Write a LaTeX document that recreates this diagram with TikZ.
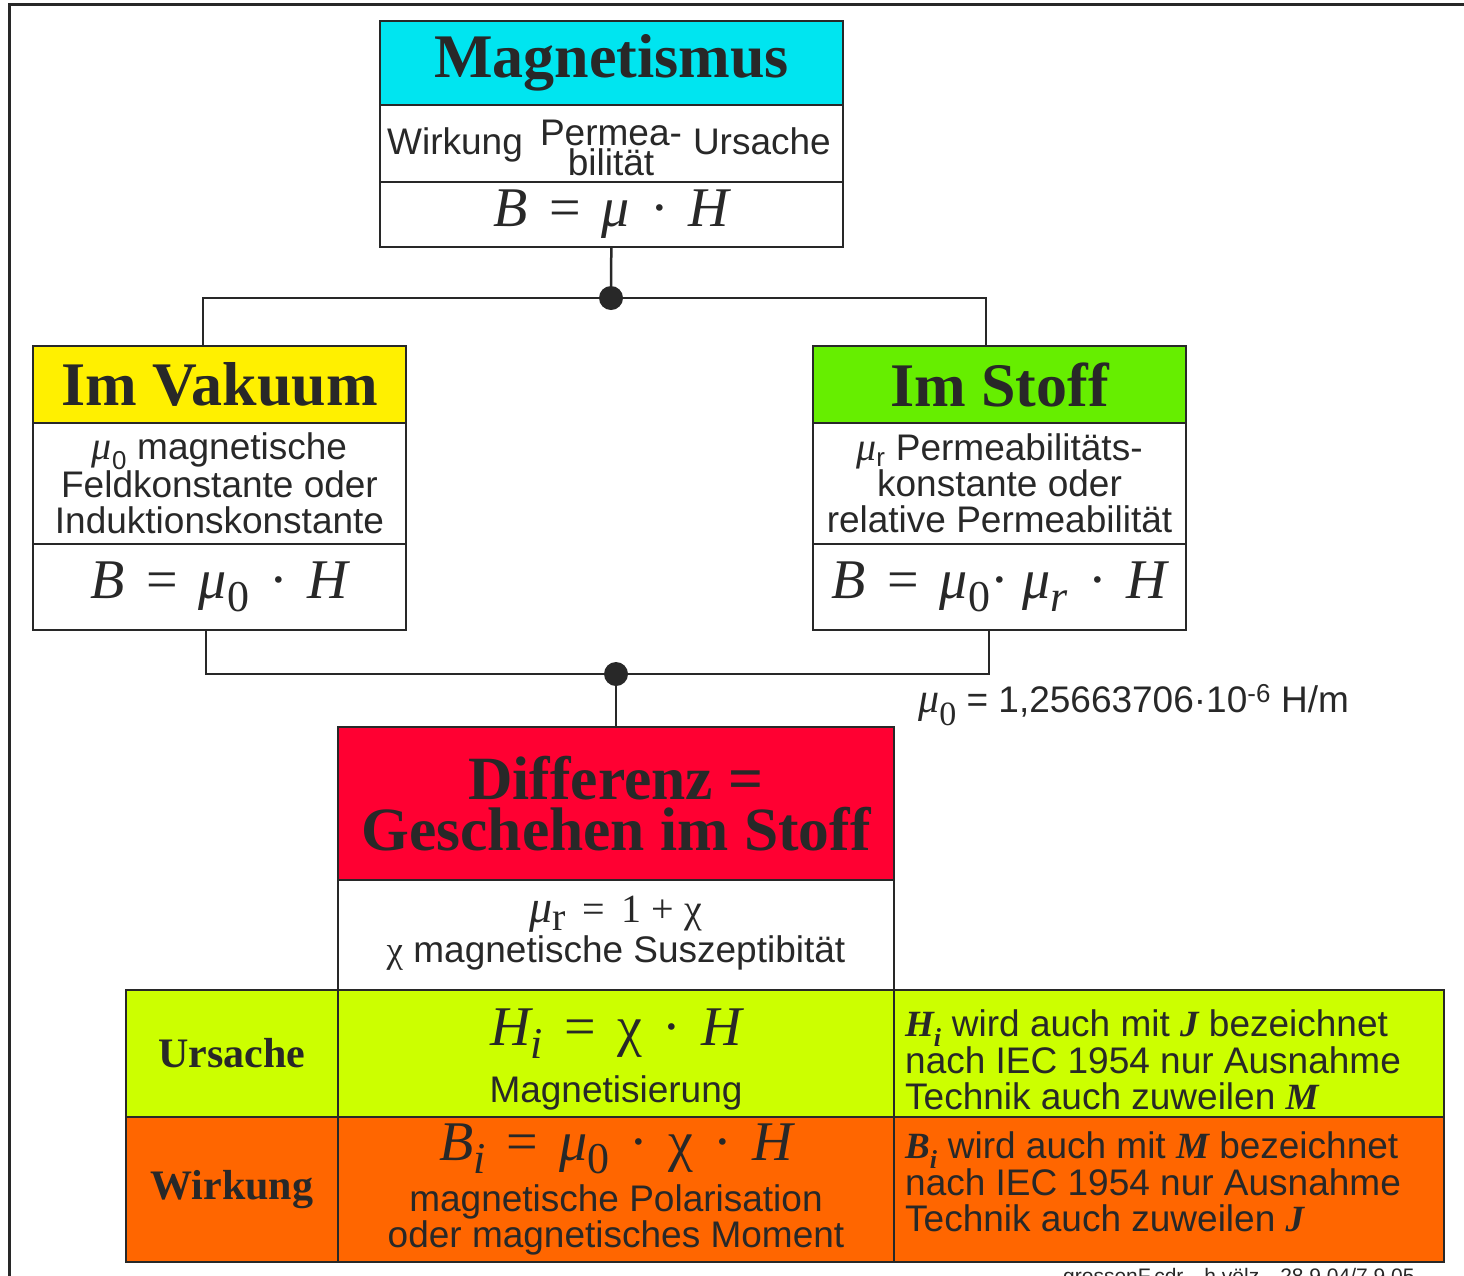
\documentclass[tikz,border=0pt]{standalone}
\usepackage{fontspec}
\setmainfont{Liberation Sans}
\newfontfamily\tms{Liberation Serif}
\usetikzlibrary{positioning}

\definecolor{magcyan}{RGB}{0,229,240}
\definecolor{vakyellow}{RGB}{255,240,0}
\definecolor{stoffgreen}{RGB}{102,238,0}
\definecolor{diffred}{RGB}{255,0,50}
\definecolor{urslime}{RGB}{204,255,0}
\definecolor{wirkorange}{RGB}{255,102,0}
\definecolor{ink}{RGB}{40,40,40}

\newcommand\vv[1]{{\tms\itshape #1}}
\newcommand\bv[1]{{\tms\bfseries\itshape #1}}
\newcommand\lo[2][44]{\raisebox{-13pt}{\fontsize{#1}{#1}\selectfont\tms #2}}
\newcommand\eq{\hspace{.38em}=\hspace{.38em}}
\newcommand\md{\hspace{.36em}·\hspace{.36em}}

\tikzset{
  cell/.style={draw=ink, line width=2.5pt, inner sep=0pt, outer sep=0pt, text=ink},
  head/.style={cell, font=\fontsize{62}{62}\selectfont\tms\bfseries},
  body/.style={text=ink, inner sep=0pt, align=center, font=\fontsize{37}{36}\selectfont},
  formula/.style={text=ink, inner sep=0pt, font=\fontsize{56}{60}\selectfont\tms},
  conn/.style={draw=ink, line width=2.5pt},
  knot/.style={circle, fill=ink, minimum size=24pt, inner sep=0pt},
}

\begin{document}
\begin{tikzpicture}[x=1pt, y=-1pt]
  \useasboundingbox (0,0) rectangle (1464,1275);
  \draw[ink, line width=3pt] (9,1300) -- (9,4) -- (1490,4);

  % Magnetismus
  \node[head, fill=magcyan, minimum width=463pt, minimum height=84pt] (mag) at (611.5,63) {Magnetismus};
  \node[cell, minimum width=463pt, minimum height=77pt, below=0pt of mag] (magmid) {};
  \node[cell, formula, minimum width=463pt, minimum height=65pt, below=0pt of magmid] (magform)
    {\vv{B}\eq\vv{μ}\md\vv{H}};
  \node[body, anchor=base west] (magwirk) at (387,154) {Wirkung};
  \node[body, anchor=base east] (magurs) at (831,154) {Ursache};
  \node[body, anchor=base] (magperm) at (611,145) {Permea-};
  \node[body, anchor=base] (magbil) at (611,175) {bilität};

  % Vakuum / Stoff
  \node[head, fill=vakyellow, minimum width=373pt, minimum height=77pt] (vak) at (219.5,384.5) {Im Vakuum};
  \node[cell, body, minimum width=373pt, minimum height=121pt, below=0pt of vak] (vakmid)
    {{\fontsize{40}{36}\selectfont\vv{μ}}\textsubscript{0} magnetische\\Feldkonstante oder\\Induktionskonstante};
  \node[cell, formula, minimum width=373pt, minimum height=86pt, below=0pt of vakmid] (vakform)
    {\vv{B}\eq\vv{μ}\lo{0}\md\vv{H}};

  \node[head, fill=stoffgreen, minimum width=373pt, minimum height=77pt] (stoff) at (999.5,384.5) {Im Stoff};
  \node[cell, body, minimum width=373pt, minimum height=121pt, below=0pt of stoff] (stoffmid)
    {{\fontsize{40}{36}\selectfont\vv{μ}}\textsubscript{r} Permeabilitäts-\\konstante oder\\relative Permeabilität};
  \node[cell, formula, minimum width=373pt, minimum height=86pt, below=0pt of stoffmid] (stoffform)
    {\vv{B}\eq\vv{μ}\lo{0}· \vv{μ}\lo{\itshape r}\md\vv{H}};

  \node[knot] (knot1) at (611,298) {};
  \draw[conn] (magform) -- (knot1);
  \draw[conn] ([xshift=-16.5pt]vak.north) |- (knot1) -| ([xshift=-13.5pt]stoff.north);

  \node[knot] (knot2) at (616,674) {};
  \draw[conn] ([xshift=-13.5pt]vakform.south) |- (knot2) -| ([xshift=-10.5pt]stoffform.south);

  \node[body, anchor=base west] (muconst) at (918,712)
    {{\fontsize{42}{40}\selectfont\vv{μ}\lo[34]{0}} = 1,25663706·10\textsuperscript{-6} H/m};

  % Differenz
  \node[head, fill=diffred, align=center, font=\fontsize{61.5}{51}\selectfont\tms\bfseries,
    minimum width=556pt, minimum height=153pt] (diff) at (616,803.5) {Differenz =\\Geschehen im Stoff};
  \draw[conn] (knot2) -- (diff);
  \node[cell, minimum width=556pt, minimum height=110pt, below=0pt of diff] (diffmid) {};
  \node[formula, anchor=base, font=\fontsize{40}{40}\selectfont\tms] (mureq) at (616,922)
    {{\fontsize{46}{40}\selectfont\vv{μ}}\raisebox{-8pt}{r} \,=\, 1 + χ};
  \node[body, anchor=base] (chitext) at (616,962) {{\tms χ} magnetische Suszeptibität};

  % Tabelle
  \node[cell, fill=urslime, font=\fontsize{42}{42}\selectfont\tms\bfseries,
    minimum width=212pt, minimum height=127pt] (urs) at (232,1053.5) {Ursache};
  \node[cell, fill=urslime, minimum width=556pt, minimum height=127pt, right=0pt of urs] (ursmid) {};
  \node[cell, fill=urslime, minimum width=550pt, minimum height=127pt, right=0pt of ursmid] (ursnote) {};
  \node[cell, fill=wirkorange, font=\fontsize{42}{42}\selectfont\tms\bfseries,
    minimum width=212pt, minimum height=145pt, below=0pt of urs] (wirk) {Wirkung};
  \node[cell, fill=wirkorange, minimum width=556pt, minimum height=145pt, right=0pt of wirk] (wirkmid) {};
  \node[cell, fill=wirkorange, minimum width=550pt, minimum height=145pt, right=0pt of wirkmid] (wirknote) {};

  \node[formula, anchor=base] (hieq) at (616,1045) {\vv{H}\lo{\itshape i}\eq χ\md\vv{H}};
  \node[body, anchor=base] (hitext) at (616,1102) {Magnetisierung};
  \node[body, align=left, anchor=west] (hinote) at (905,1060)
    {\bv{H}\textsubscript{\bv{i}} wird auch mit \bv{J} bezeichnet\\nach IEC 1954 nur Ausnahme\\Technik auch zuweilen \bv{M}};

  \node[formula, anchor=base] (bieq) at (616,1160) {\vv{B}\lo{\itshape i}\eq\vv{μ}\lo{0}\md χ\md\vv{H}};
  \node[body] (bitext) at (616,1220) {magnetische Polarisation\\oder magnetisches Moment};
  \node[body, align=left, anchor=west] (binote) at (905,1182)
    {\bv{B}\textsubscript{\bv{i}} wird auch mit \bv{M} bezeichnet\\nach IEC 1954 nur Ausnahme\\Technik auch zuweilen \bv{J}};

  \node[text=ink, inner sep=0pt, anchor=north west, font=\fontsize{21}{21}\selectfont] (credit) at (1063,1268)
    {grossenF.cdr\quad h.völz\quad 28.9.04/7.9.05};
\end{tikzpicture}
\end{document}
